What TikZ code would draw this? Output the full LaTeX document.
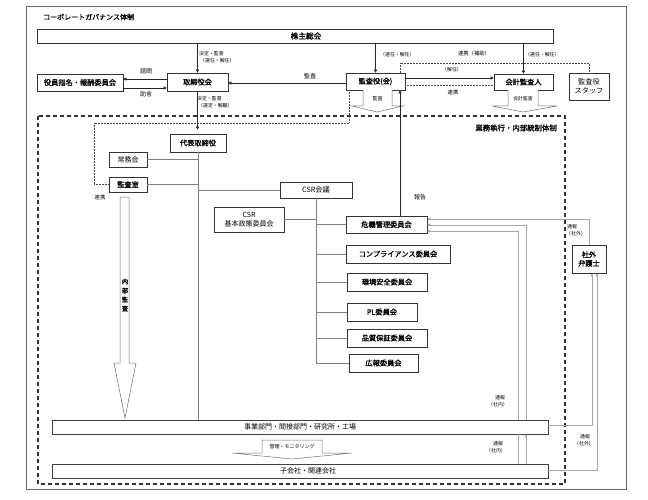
\documentclass[tikz,border=0pt]{standalone}
\usepackage{fontspec}
\setmainfont{Noto Sans CJK JP}
\newfontfamily\jpb{Noto Sans CJK JP}[FakeBold=1.3]
\usetikzlibrary{arrows.meta}
\begin{document}
\begin{tikzpicture}[x=1pt,y=-1pt,
  box/.style={draw=black!80, line width=0.6pt, fill=white, inner sep=0pt, align=center,
    font=\jpb\fontsize{7.2}{8.6}\selectfont},
  wbox/.style={draw=black!75, line width=0.6pt, fill=white, inner sep=0pt,
    font=\fontsize{7}{8}\selectfont},
  lab/.style={inner sep=0pt, align=left, font=\fontsize{4.9}{7}\selectfont},
  mlab/.style={inner sep=0pt, align=center, font=\fontsize{6}{7}\selectfont},
  arr/.style={draw=black!85, line width=0.5pt, -{Triangle[length=3pt,width=3pt]}},
  tree/.style={draw=black!50, line width=0.8pt},
  dot/.style={draw=black!70, line width=0.5pt, densely dotted},
  tsuho/.style={draw=black!35, line width=0.7pt},
  tarr/.style={tsuho, -{Triangle[length=3pt,width=2.6pt]}},
  fat/.style={draw=black!55, line width=0.5pt, fill=white}
]
\useasboundingbox[fill=white] (0,0) rectangle (648,500);
% outer frame
\draw[draw=black!60, line width=0.6pt] (26,6) rectangle (626,489);
\node[anchor=west, inner sep=0pt, font=\jpb\fontsize{7}{8}\selectfont] (title) at (43,17) {コーポレートガバナンス体制};
% dashed execution frame
\draw[draw=black!80, line width=1.1pt, dash pattern=on 4pt off 3pt] (38,116) rectangle (565,484);
\node[anchor=east, inner sep=0pt, font=\jpb\fontsize{7.4}{8}\selectfont] (gyomu) at (557,128) {業務執行・内部統制体制};

% coordinates for connector bends
\coordinate (s1) at (400,63);
\coordinate (d1) at (349,123);
\coordinate (d2) at (94,123);

% ---- lines that pass behind boxes ----
\draw[tsuho] (526,225) -- (526,420);
\draw[tsuho] (518,231) -- (518,464);

% top boxes
\node[box, minimum width=516pt, minimum height=14pt,
  label={[xshift=11pt, font=\jpb\fontsize{7.6}{8}\selectfont]center:株主総会}] (kabu) at (295,36) {};
\node[box, minimum width=61pt, minimum height=18pt] (tori) at (197.5,82) {取締役会};
\node[box, minimum width=86pt, minimum height=17pt] (yaku) at (80,82.5) {役員指名・報酬委員会};
\node[box, minimum width=59pt, minimum height=17pt] (kansa) at (375.5,81.5) {監査役(会)};
\node[box, minimum width=59pt, minimum height=16pt] (kaikei) at (523.5,82) {会計監査人};
\node[box, minimum width=40pt, minimum height=27pt, font=\fontsize{7.2}{8.6}\selectfont] (staff) at (589,86.5) {監査役\\スタッフ};

% execution boxes
\node[box, minimum width=56pt, minimum height=18pt] (daihyo) at (198,143) {代表取締役};
\node[box, minimum width=38pt, minimum height=15pt, font=\fontsize{7}{8}\selectfont] (jomu) at (128,159.5) {常務会};
\node[box, minimum width=38pt, minimum height=15pt] (kshitsu) at (128,184.5) {監査室};
\node[box, minimum width=72pt, minimum height=16pt, font=\fontsize{7.2}{8.6}\selectfont] (csr) at (316,190) {CSR会議};
\node[box, minimum width=70pt, minimum height=25pt, font=\fontsize{7}{8.8}\selectfont] (csrk) at (249,219.5) {CSR\\基本政策委員会};
\node[box, minimum width=81pt, minimum height=17pt] (kiki) at (386.5,224.5) {危機管理委員会};
\node[box, minimum width=104pt, minimum height=18pt] (comp) at (398,254) {コンプライアンス委員会};
\node[box, minimum width=80pt, minimum height=18pt] (kankyo) at (387,282) {環境安全委員会};
\node[box, minimum width=70pt, minimum height=18pt] (pl) at (382,312) {PL委員会};
\node[box, minimum width=80pt, minimum height=18pt] (hin) at (387,338) {品質保証委員会};
\node[box, minimum width=69pt, minimum height=18pt] (koho) at (383.5,363) {広報委員会};
\node[box, minimum width=34pt, minimum height=28pt] (ben) at (589,259) {社外\\弁護士};
\node[wbox, minimum width=496pt, minimum height=14pt] (jigyo) at (300,427) {事業部門・間接部門・研究所・工場};
\node[wbox, minimum width=496pt, minimum height=14pt,
  label={[xshift=8pt, font=\fontsize{7}{8}\selectfont]center:子会社・関連会社}] (ko) at (300,471) {};

% ---- top connectors ----
\draw[arr] (kabu.south -| tori.north) -- (tori.north);
\node[lab, anchor=north west] (l1) at (199,51.5) {決定・監督\\\hspace*{1pt}（選任・解任）};
\draw[arr] (kabu.south -| kansa.north) -- (kansa.north);
\node[lab, anchor=west] (l2) at (380,55) {（選任・解任）};
\draw[arr] (kabu.south -| kaikei.north) -- (kaikei.north);
\node[lab, anchor=west] (l3) at (525,55) {（選任・解任）};
\node[mlab, font=\fontsize{5.3}{7}\selectfont] (l4) at (474,53) {連携（補助）};

\draw[arr] (tori.west |- 0,79) -- (yaku.east |- 0,79);
\node[mlab] (l5) at (146,71) {諮問};
\draw[arr] (yaku.east |- 0,88) -- (tori.west |- 0,88);
\node[mlab] (l6) at (146,94.5) {助言};

\draw[arr] (kansa.west |- 0,83) -- (tori.east |- 0,83);
\node[mlab] (l7) at (310,76) {監査};

\draw[arr] (kansa.east |- 0,78) -- (kaikei.west |- 0,78);
\node[lab] (l8) at (452,70) {（解任）};
\draw[dot] (kansa.east |- 0,85) -- (kaikei.west |- 0,85);
\node[mlab, font=\fontsize{5.3}{7}\selectfont] (l9) at (453,92) {連携};

\draw[dot] (kansa.north -| s1) -- (s1) -| (staff.north);

\draw[arr, shorten >=4pt] (tori.south) -- (daihyo.north -| tori.south);
\node[lab, anchor=north west] (l10) at (197,96) {決定・監督\\\hspace*{1pt}（選定・解職）};

\draw[dot] (kansa.south -| d1) -- (d1) -- (d2) |- (kshitsu.west);
\node[mlab, font=\fontsize{5.3}{7}\selectfont] (l11) at (100,197) {連携};

% fat arrows
\draw[fat] (363,90) -- (363,106) -- (352,106) -- (377,112) -- (403,106) -- (392,106) -- (392,90);
\node[mlab, font=\fontsize{5}{6}\selectfont] (l12) at (377.5,98.5) {監査};
\draw[fat] (508,90) -- (508,106) -- (492,106) -- (523,112) -- (557,106) -- (538,106) -- (538,90);
\node[mlab, font=\fontsize{4.8}{6}\selectfont] (l13) at (523,99) {会計監査};
\draw[fat] (262,440) -- (262,453) -- (232,453) -- (292,459) -- (352,453) -- (322,453) -- (322,440) -- cycle;
\node[mlab, font=\fontsize{5}{6}\selectfont] (l14) at (292,446.5) {管理・モニタリング};
\draw[fat] (120,197) -- (120,363) -- (114,363) -- (125,418) -- (136,363) -- (129,363) -- (129,197) -- cycle;
\node[mlab, font=\jpb\fontsize{6.2}{9}\selectfont] (l15) at (125,295) {内\\部\\監\\査};

% report arrow
\draw[arr] (kiki.north -| s1) -- (kansa.south -| s1);
\node[mlab] (l16) at (420,197) {報告};

% tree
\draw[tree] (daihyo.south) -- (jigyo.north -| daihyo.south);
\draw[tree] (jomu.east) -- (jomu.east -| daihyo.south);
\draw[tree] (kshitsu.east) -- (kshitsu.east -| daihyo.south);
\draw[tree] (csr.west) -- (csr.west -| daihyo.south);
\draw[tree] (csr.south) -- (csr.south |- koho.west);
\draw[tree] (csrk.east) -- (csrk.east -| csr.south);
\draw[tree] (kiki.west) -- (kiki.west -| csr.south);
\draw[tree] (comp.west) -- (comp.west -| csr.south);
\draw[tree] (kankyo.west) -- (kankyo.west -| csr.south);
\draw[tree] (pl.west) -- (pl.west -| csr.south);
\draw[tree] (hin.west) -- (hin.west -| csr.south);
\draw[tree] (koho.west) -- (koho.west -| csr.south);

% whistle-blowing lines
\draw[tarr] (ben.north) |- (kiki.east |- 0,219);
\draw[tarr] (jigyo.north -| 526,0) |- (kiki.east |- 0,225);
\draw[tarr] (jigyo.north -| 518,0) |- (kiki.east |- 0,231);
\draw[tsuho] (ko.north -| 518,0) -- (jigyo.south -| 518,0);
\draw[tarr] (ko.north -| 526,0) -- (jigyo.south -| 526,0);
\draw[tarr] (jigyo.east |- 0,425) -| (ben.south -| 592,0);
\draw[tarr] (ko.east |- 0,470) -| (ben.south -| 597,0);
\node[lab, anchor=north west] (l17) at (566,224) {\hspace*{1pt}通報\\（社外）};
\node[lab, align=center] (l18) at (498,401) {\hspace*{4pt}通報\\（社内）};
\node[lab, align=center] (l19) at (496,447) {\hspace*{4pt}通報\\（社内）};
\node[lab, align=center] (l20) at (584,440) {\hspace*{2pt}通報\\（社外）};
\end{tikzpicture}
\end{document}
